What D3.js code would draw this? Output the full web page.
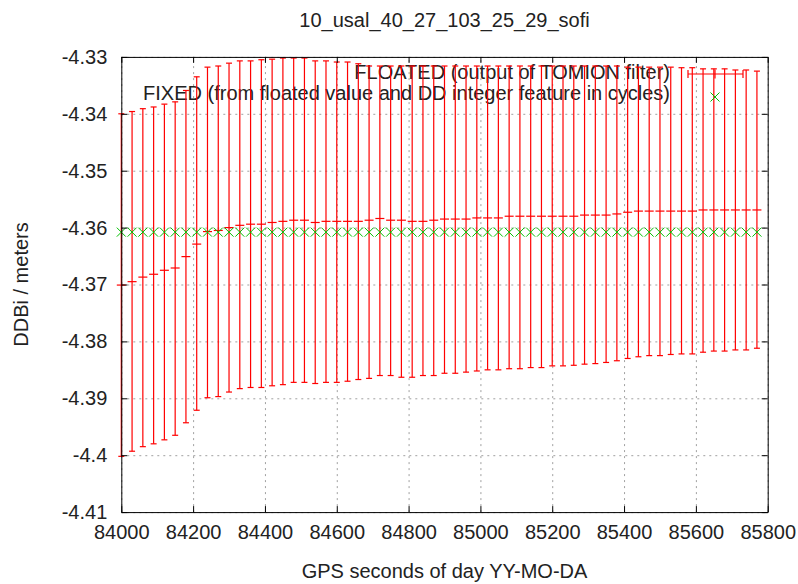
<!DOCTYPE html>
<html><head><meta charset="utf-8">
<script src="https://cdn.jsdelivr.net/npm/d3@7"></script>
<style>
body{margin:0;background:#fff}
svg{display:block}
text{font-family:"Liberation Sans",Arial,sans-serif;font-size:20px;fill:#222}
</style>
</head><body>
<svg id="chart" width="798" height="584"></svg>
<script>
const chartTitle = "10_usal_40_27_103_25_29_sofi";
const xLabel = "GPS seconds of day YY-MO-DA";
const yLabel = "DDBi / meters";
const floatedName = "FLOATED (output of TOMION filter)";
const fixedName = "FIXED (from floated value and DD integer feature in cycles)";

const seconds = [84000,84030,84060,84090,84120,84150,84180,84210,84240,84270,
  84300,84330,84360,84390,84420,84450,84480,84510,84540,84570,
  84600,84630,84660,84690,84720,84750,84780,84810,84840,84870,
  84900,84930,84960,84990,85020,85050,85080,85110,85140,85170,
  85200,85230,85260,85290,85320,85350,85380,85410,85440,85470,
  85500,85530,85560,85590,85620,85650,85680,85710,85740,85770];

const floated = [-4.3701,-4.3695,-4.3687,-4.3682,-4.3675,-4.3671,-4.3651,-4.3629,-4.3607,-4.3605,
  -4.3600,-4.3596,-4.3594,-4.3594,-4.3591,-4.3589,-4.3587,-4.3587,-4.3591,-4.3589,
  -4.3589,-4.3589,-4.3589,-4.3587,-4.3584,-4.3587,-4.3587,-4.3589,-4.3589,-4.3587,
  -4.3585,-4.3585,-4.3585,-4.3583,-4.3583,-4.3583,-4.3580,-4.3580,-4.3580,-4.3580,
  -4.3580,-4.3580,-4.3580,-4.3578,-4.3578,-4.3578,-4.3576,-4.3573,-4.3571,-4.3571,
  -4.3571,-4.3571,-4.3571,-4.3571,-4.3569,-4.3569,-4.3569,-4.3569,-4.3569,-4.3569];

const floatedLow = [-4.4002,-4.3993,-4.3985,-4.3980,-4.3973,-4.3965,-4.3943,-4.3921,-4.3899,-4.3897,
  -4.3889,-4.3883,-4.3881,-4.3881,-4.3878,-4.3876,-4.3872,-4.3872,-4.3874,-4.3872,
  -4.3872,-4.3870,-4.3867,-4.3865,-4.3860,-4.3860,-4.3863,-4.3863,-4.3860,-4.3860,
  -4.3856,-4.3856,-4.3854,-4.3852,-4.3850,-4.3850,-4.3848,-4.3848,-4.3846,-4.3846,
  -4.3843,-4.3843,-4.3842,-4.3840,-4.3839,-4.3837,-4.3834,-4.3830,-4.3827,-4.3825,
  -4.3825,-4.3823,-4.3822,-4.3822,-4.3819,-4.3817,-4.3817,-4.3815,-4.3815,-4.3812];

const floatedHigh = [-4.3400,-4.3396,-4.3391,-4.3388,-4.3383,-4.3379,-4.3359,-4.3335,-4.3318,-4.3316,
  -4.3311,-4.3307,-4.3307,-4.3305,-4.3304,-4.3302,-4.3302,-4.3302,-4.3307,-4.3307,
  -4.3309,-4.3309,-4.3312,-4.3316,-4.3316,-4.3316,-4.3316,-4.3316,-4.3316,-4.3316,
  -4.3316,-4.3316,-4.3316,-4.3316,-4.3316,-4.3316,-4.3316,-4.3316,-4.3316,-4.3316,
  -4.3316,-4.3316,-4.3316,-4.3316,-4.3316,-4.3316,-4.3316,-4.3318,-4.3318,-4.3318,
  -4.3318,-4.3318,-4.3319,-4.3319,-4.3321,-4.3321,-4.3321,-4.3323,-4.3323,-4.3325];

const fixed = [-4.3608,-4.3608,-4.3608,-4.3608,-4.3608,-4.3608,-4.3608,-4.3608,-4.3608,-4.3608,
  -4.3608,-4.3608,-4.3608,-4.3608,-4.3608,-4.3608,-4.3608,-4.3608,-4.3608,-4.3608,
  -4.3608,-4.3608,-4.3608,-4.3608,-4.3608,-4.3608,-4.3608,-4.3608,-4.3608,-4.3608,
  -4.3608,-4.3608,-4.3608,-4.3608,-4.3608,-4.3608,-4.3608,-4.3608,-4.3608,-4.3608,
  -4.3608,-4.3608,-4.3608,-4.3608,-4.3608,-4.3608,-4.3608,-4.3608,-4.3608,-4.3608,
  -4.3608,-4.3608,-4.3608,-4.3608,-4.3608,-4.3608,-4.3608,-4.3608,-4.3608,-4.3608];

const xTicks = [84000,84200,84400,84600,84800,85000,85200,85400,85600,85800];
const yTicks = [-4.33,-4.34,-4.35,-4.36,-4.37,-4.38,-4.39,-4.4,-4.41];

const svg = d3.select("#chart");
const L = 121.3, R = 767.7, T = 56.9, B = 512.1;
const x = d3.scaleLinear().domain([84000, 85800]).range([L, R]);
const y = d3.scaleLinear().domain([-4.41, -4.33]).range([B, T]);
const fmt = d => String(+(+d).toFixed(2));

svg.append("rect").attr("width", 798).attr("height", 584).attr("fill", "#fff");

// grid
const gridX = svg.append("g").attr("transform", `translate(0,${B})`)
  .call(d3.axisBottom(x).tickValues(xTicks).tickSize(-(B - T)).tickFormat(""));
const gridY = svg.append("g").attr("transform", `translate(${L},0)`)
  .call(d3.axisLeft(y).tickValues(yTicks).tickSize(-(R - L)).tickFormat(""));
[gridX, gridY].forEach(g => {
  g.select(".domain").remove();
  g.selectAll("line").attr("stroke", "#a0a0a0").attr("stroke-width", 1).attr("stroke-dasharray", "2,4");
});

// legend (drawn below the data, like gnuplot)
const legX = 670, sampleL = 688, sampleR = 743, sampleC = 715;
svg.append("text").attr("x", legX).attr("y", 79).attr("text-anchor", "end").text(floatedName);
svg.append("text").attr("x", legX).attr("y", 100).attr("text-anchor", "end").text(fixedName);

const red = "#ff0000", green = "#00c000";
const lg = svg.append("g").attr("stroke", red).attr("stroke-width", 1.2).attr("fill", "none");
lg.append("line").attr("x1", sampleL).attr("x2", sampleR).attr("y1", 74).attr("y2", 74);
lg.append("line").attr("x1", sampleL).attr("x2", sampleL).attr("y1", 70).attr("y2", 78);
lg.append("line").attr("x1", sampleR).attr("x2", sampleR).attr("y1", 70).attr("y2", 78);
lg.append("line").attr("x1", sampleC).attr("x2", sampleC).attr("y1", 69.5).attr("y2", 78.5);

// error bars
const data = seconds.map((s, i) => ({s, v: floated[i], lo: floatedLow[i], hi: floatedHigh[i], f: fixed[i]}));
const eb = svg.append("g").attr("stroke", red).attr("stroke-width", 1.2).attr("fill", "none");
const g1 = eb.selectAll("g").data(data).join("g");
g1.append("line").attr("x1", d => x(d.s)).attr("x2", d => x(d.s)).attr("y1", d => y(d.lo)).attr("y2", d => y(d.hi));
g1.append("line").attr("x1", d => x(d.s) - 3).attr("x2", d => x(d.s) + 3).attr("y1", d => y(d.lo)).attr("y2", d => y(d.lo));
g1.append("line").attr("x1", d => x(d.s) - 3).attr("x2", d => x(d.s) + 3).attr("y1", d => y(d.hi)).attr("y2", d => y(d.hi));
g1.append("line").attr("x1", d => x(d.s) - 4.5).attr("x2", d => x(d.s) + 4.5).attr("y1", d => y(d.v)).attr("y2", d => y(d.v));

// fixed crosses
const cr = 4.5;
const fx = svg.append("g").attr("stroke", green).attr("stroke-width", 1).attr("fill", "none");
fx.selectAll("path").data(data).join("path")
  .attr("d", d => { const cx = x(d.s), cy = y(d.f);
    return `M${cx-cr},${cy-cr}L${cx+cr},${cy+cr}M${cx-cr},${cy+cr}L${cx+cr},${cy-cr}`; });
// legend cross
fx.append("path").attr("d", `M${sampleC-cr},${97-cr}L${sampleC+cr},${97+cr}M${sampleC-cr},${97+cr}L${sampleC+cr},${97-cr}`);

// axes with inward ticks
const tk = 6;
const axB = svg.append("g").attr("transform", `translate(0,${B})`)
  .call(d3.axisBottom(x).tickValues(xTicks).tickSizeInner(-tk).tickSizeOuter(0).tickPadding(13).tickFormat(fmt));
const axT = svg.append("g").attr("transform", `translate(0,${T})`)
  .call(d3.axisTop(x).tickValues(xTicks).tickSizeInner(-tk).tickSizeOuter(0).tickFormat(""));
const axL = svg.append("g").attr("transform", `translate(${L},0)`)
  .call(d3.axisLeft(y).tickValues(yTicks).tickSizeInner(-tk).tickSizeOuter(0).tickPadding(14).tickFormat(fmt));
const axR = svg.append("g").attr("transform", `translate(${R},0)`)
  .call(d3.axisRight(y).tickValues(yTicks).tickSizeInner(-tk).tickSizeOuter(0).tickFormat(""));
[axB, axT, axL, axR].forEach(g => {
  g.select(".domain").attr("stroke", "#000").attr("stroke-width", 1);
  g.selectAll(".tick line").attr("stroke", "#000").attr("stroke-width", 1);
  g.selectAll(".tick text").attr("font-family", "Liberation Sans, Arial, sans-serif").attr("font-size", 20).attr("fill", "#222");
});

// titles
svg.append("text").attr("x", (L + R) / 2).attr("y", 27).attr("text-anchor", "middle").text(chartTitle);
svg.append("text").attr("x", (L + R) / 2).attr("y", 578).attr("text-anchor", "middle").text(xLabel);
svg.append("text").attr("transform", `translate(28,${(T + B) / 2}) rotate(-90)`).attr("text-anchor", "middle").text(yLabel);
</script>
</body></html>
